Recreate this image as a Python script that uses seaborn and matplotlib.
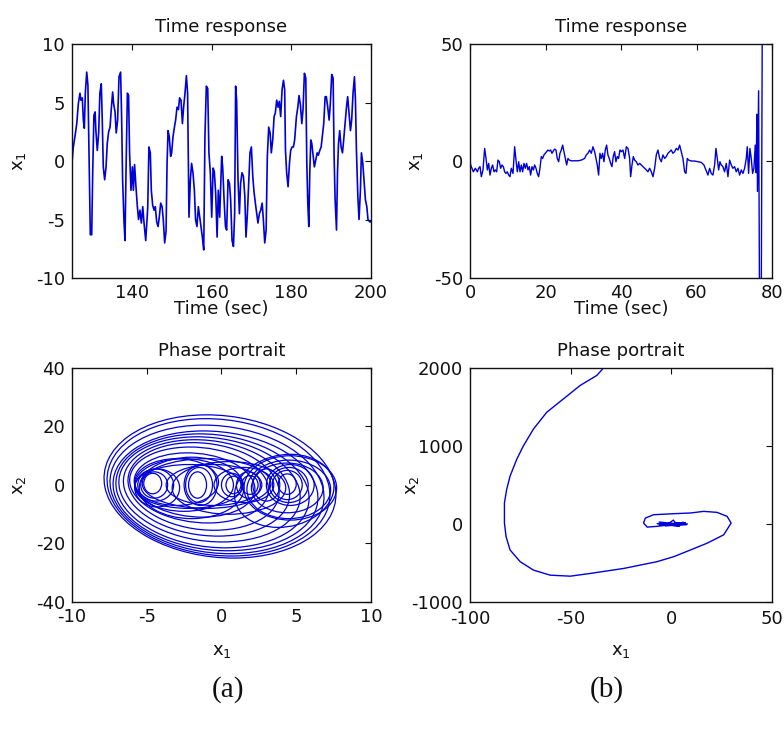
import matplotlib
matplotlib.use("Agg")
import matplotlib.pyplot as plt
from matplotlib.patches import Ellipse
import seaborn as sns

# ---------------- data ----------------
# (a) time response of x1, 125..200 s
t_a = [125.0, 125.3, 125.75, 126.2, 126.6, 127.0, 127.25, 127.6, 127.85, 128.1,
       128.35, 128.7, 129.0, 129.35, 129.6, 129.95, 130.2, 130.5, 130.8, 131.0,
       131.35, 131.7, 132.0, 132.35, 132.6, 132.85, 133.2, 133.55, 133.85, 134.2,
       134.55, 134.85, 135.2, 135.45, 135.8, 136.1, 136.45, 136.8, 137.2, 137.45,
       137.7, 138.05, 138.3, 138.55, 138.9, 139.2, 139.45, 139.8, 140.15, 140.4,
       140.7, 141.05, 141.4, 141.7, 142.05, 142.4, 142.75, 143.05, 143.5, 144.0,
       144.3, 144.65, 144.9, 145.25, 145.6, 145.9, 146.25, 146.6, 146.9, 147.25,
       147.6, 147.9, 148.25, 148.6, 148.85, 149.1, 149.4, 149.75, 150.0, 150.35,
       150.7, 151.0, 151.35, 151.7, 152.0, 152.35, 152.7, 153.0, 153.35, 153.7,
       154.0, 154.35, 154.7, 155.0, 155.35, 155.7, 156.0, 156.35, 156.7, 157.05,
       157.35, 157.7, 158.05, 158.35, 158.7, 159.05, 159.35, 159.7, 160.05, 160.4,
       160.7, 161.05, 161.4, 161.7, 162.05, 162.55, 162.8, 163.15, 163.5, 163.8,
       164.15, 164.5, 164.8, 165.15, 165.5, 165.8, 166.05, 166.3, 166.65, 167.0,
       167.3, 167.65, 168.0, 168.35, 168.65, 169.0, 169.35, 169.65, 170.0, 170.35,
       170.65, 171.0, 171.35, 171.65, 172.0, 172.35, 172.7, 173.0, 173.35, 173.7,
       174.0, 174.35, 174.7, 175.0, 175.35, 175.7, 176.0, 176.35, 176.7, 177.0,
       177.35, 177.7, 178.05, 178.35, 178.55, 178.85, 179.2, 179.55, 179.85, 180.2,
       180.55, 180.85, 181.3, 181.65, 181.95, 182.3, 182.65, 182.95, 183.3, 183.65,
       183.9, 184.15, 184.4, 184.65, 184.9, 185.15, 185.5, 185.8, 186.15, 186.5,
       186.8, 187.15, 187.5, 187.8, 188.15, 188.5, 188.8, 189.15, 189.5, 189.8,
       190.15, 190.5, 190.75, 191.0, 191.35, 191.6, 191.85, 192.15, 192.5, 192.85,
       193.15, 193.5, 193.85, 194.15, 194.5, 194.85, 195.15, 195.5, 195.85, 196.1,
       196.35, 196.7, 197.0, 197.35, 197.6, 197.95, 198.25, 198.6, 198.95, 199.25,
       199.7, 200.0]
x1_a = [-0.2, 1.1, 2.1, 3.2, 4.9, 5.8, 5.2, 5.4, 3.5, 2.8,
        5.8, 7.6, 6.5, -1.3, -6.3, -6.3, -1.0, 3.9, 4.2, 2.6,
        0.9, 2.4, 5.8, 6.6, 3.5, -0.5, -1.6, -0.5, 1.5, 2.5,
        2.9, 4.4, 5.9, 4.9, 4.2, 2.4, 3.5, 7.2, 7.6, 3.8,
        -1.6, -5.2, -6.8, -1.0, 5.8, 5.6, 0.7, -2.5, -0.5, -2.5,
        -0.3, -2.2, -3.9, -5.0, -4.2, -5.3, -3.9, -5.2, -6.8, -4.0,
        1.2, 0.7, -2.5, -3.8, -4.2, -3.9, -5.2, -5.6, -4.8, -3.6,
        -3.9, -5.0, -7.0, -6.0, -0.2, 2.6, 2.1, 0.4, 0.7, 2.1,
        2.9, 3.5, 4.6, 4.4, 5.4, 5.2, 3.2, 4.6, 5.8, 7.3,
        5.8, -4.8, -1.6, -0.2, -1.0, -2.5, -5.0, -5.6, -3.9, -4.8,
        -5.6, -6.5, -7.6, 2.1, 6.4, 6.2, 0.7, -1.0, -4.8, -0.6,
        -0.9, -2.8, -6.5, -2.5, -4.8, 0.4, -0.5, -3.3, -5.6, -5.9,
        -1.6, -1.9, -3.3, -6.8, -7.3, -4.5, 6.4, 5.2, -1.6, -4.5,
        -1.9, -1.0, -1.3, -3.0, -6.5, -4.5, -1.6, 0.7, 1.2, -1.3,
        -2.6, -3.6, -4.5, -5.3, -4.5, -4.2, -3.6, -5.0, -7.0, -5.9,
        0.4, 2.9, 2.4, 0.7, 1.8, 3.8, 4.1, 5.2, 4.6, 5.1,
        3.8, 6.1, 6.9, 6.1, 0.9, -1.0, -2.2, -0.2, 0.9, 1.2,
        1.2, 1.8, 3.8, 4.6, 5.6, 4.8, 3.2, 4.4, 7.5, 7.1,
        -0.2, -3.6, -5.6, -1.0, 1.8, 1.5, 0.4, -0.5, 0.1, 0.7,
        0.5, 0.9, 1.2, 2.1, 3.2, 5.5, 5.5, 4.6, 3.5, 4.9,
        7.4, 7.1, 0.4, -3.3, -5.9, -1.0, 1.5, 2.6, 1.2, 0.7,
        1.8, 3.2, 4.6, 5.5, 4.1, 2.6, 3.5, 5.8, 7.2, 5.2,
        0.9, -3.0, -5.0, -2.5, 0.7, -0.2, -1.6, -3.3, -3.9, -5.0,
        -5.2, -5.2]

# (b) time response of x1, 0..80 s
t_b = [0.0, 0.18, 0.53, 0.88, 1.41, 1.94, 2.29, 2.65, 3.0, 3.44,
       3.88, 4.24, 4.59, 4.94, 5.3, 5.65, 6.0, 6.35, 6.71, 7.06,
       7.41, 7.77, 8.12, 8.47, 8.83, 9.18, 9.53, 9.88, 10.24, 10.59,
       10.94, 11.39, 11.83, 12.18, 12.53, 12.89, 13.24, 13.59, 13.95, 14.3,
       14.65, 15.0, 15.36, 15.71, 16.06, 16.42, 16.77, 17.12, 17.48, 17.83,
       18.18, 18.53, 18.89, 19.24, 19.59, 19.95, 20.3, 20.65, 21.0, 21.36,
       21.71, 22.06, 22.42, 22.77, 23.12, 23.48, 23.83, 24.18, 24.54, 24.89,
       25.24, 25.6, 25.95, 26.3, 26.83, 27.71, 28.6, 29.48, 30.36, 30.8,
       31.24, 31.69, 32.13, 32.57, 33.01, 33.36, 33.72, 34.07, 34.42, 34.77,
       35.13, 35.48, 35.83, 36.19, 36.54, 36.89, 37.25, 37.6, 37.95, 38.3,
       38.66, 39.01, 39.36, 39.72, 40.08, 40.52, 40.97, 41.41, 41.85, 42.29,
       42.55, 42.91, 43.26, 43.61, 44.05, 44.5, 44.94, 45.38, 45.82, 46.26,
       46.7, 47.14, 47.58, 48.03, 48.47, 48.91, 49.35, 49.79, 50.23, 50.67,
       51.12, 51.56, 52.0, 52.44, 52.88, 53.32, 53.76, 54.2, 54.65, 55.09,
       55.53, 55.97, 56.41, 56.85, 57.21, 57.56, 57.91, 58.62, 59.5, 60.38,
       61.27, 61.97, 62.32, 62.68, 63.03, 63.47, 63.91, 64.35, 64.8, 65.15,
       65.5, 65.86, 66.21, 66.56, 67.0, 67.44, 67.89, 68.33, 68.77, 69.21,
       69.65, 70.09, 70.53, 70.97, 71.42, 71.86, 72.3, 72.74, 73.18, 73.45,
       73.8, 74.15, 74.5, 74.86, 75.21, 75.56, 75.8, 76.0, 76.15, 76.45,
       76.75, 77.1, 77.45]
x1_b = [0.0, -1.7, -3.1, -4.6, -3.1, -4.6, -3.1, -2.4, -6.7, -3.8,
        5.4, 1.1, -3.8, -1.0, -6.0, -3.1, -1.7, -4.6, -3.8, -4.6,
        0.4, -0.3, -3.1, -1.7, -2.4, -4.6, -5.3, -4.6, -6.0, -6.7,
        -3.1, -5.3, 6.1, 0.4, -4.6, -0.3, -4.6, -1.7, -4.6, -1.0,
        -3.1, -1.0, -3.8, -2.4, -6.0, -2.4, -3.8, -1.7, -3.1, -5.3,
        -6.7, -3.1, 1.9, 1.1, 2.6, 3.3, 4.0, 4.7, 4.3, 4.7,
        3.3, 4.3, 5.1, 4.7, 1.1, -0.3, 3.3, 4.7, 6.8, 4.0,
        1.1, -1.7, 1.1, 0.4, 0.1, 0.1, 0.1, 0.4, 1.1, 2.6,
        3.3, 4.7, 3.3, 6.1, 4.0, 1.1, -1.7, -6.0, 3.3, 1.1,
        3.3, -0.3, 4.7, 6.8, 2.6, 1.1, -1.0, -2.4, 1.9, 4.0,
        -0.3, 1.9, 1.1, 4.7, 4.0, 4.7, 1.1, 6.1, 5.4, 1.1,
        -6.7, -1.7, 1.9, 0.4, -0.3, -1.7, -1.0, -1.7, -2.4, -3.1,
        -3.8, -4.6, -3.1, -4.6, -6.7, -3.1, 2.6, 4.7, 1.1, -0.3,
        2.6, 1.1, 1.9, 3.3, 4.0, 4.7, 3.3, 4.0, 5.4, 4.7,
        6.8, 4.0, 1.1, -4.6, -5.3, 1.1, 0.4, 0.0, 0.0, -0.3,
        -0.6, -1.7, -3.1, -4.6, -6.0, -3.1, -5.3, -6.0, -1.7, 5.4,
        1.1, -3.8, -0.3, -1.7, -2.4, -4.6, -1.0, -6.7, 0.4, -1.7,
        -3.1, -2.4, -4.6, -3.1, -6.0, -3.8, -5.3, -3.1, 1.1, 6.1,
        -5.3, 5.4, 1.1, -5.3, -3.1, 6.8, -5.0, 20.0, -13.0, 30.0,
        -83.0, -83.0, 70.0]

# (a) phase portrait: trajectory loops (centre x1, centre x2, half-width, half-height, tilt)
loop_cx = [-0.1, -0.2, -0.3, -0.4, -0.6, -0.8, -1.0, -1.2, -1.5, -1.8,
           4.6, 4.5, 4.4, 4.2,
           -2.5, -2.0, -3.0, -0.5, 1.5, 0.5, -1.0, -2.2,
           -4.5, -4.4, -4.6, -4.3,
           -1.5, -1.4, -1.6,
           0.7, 0.8, 1.8, 1.9, 3.0,
           4.4, 4.5, 4.4, 4.6]
loop_cy = [-0.5, -0.8, -1.5, -2.0, -2.0, -1.5, -1.0, -0.5, 0.0, 0.0,
           -1.0, -1.5, -1.0, -2.0,
           0.0, -1.0, 1.0, 0.0, 0.0, -1.0, 0.5, -0.5,
           0.0, 0.0, 0.5, -1.0,
           0.0, 0.0, 0.0,
           0.0, 0.0, 0.0, 0.0, 0.0,
           0.0, 0.0, 0.3, 0.0]
loop_rx = [7.7, 7.4, 7.1, 6.8, 6.4, 6.0, 5.5, 5.0, 4.6, 4.0,
           3.1, 2.8, 2.4, 3.3,
           3.3, 3.5, 2.8, 3.2, 2.0, 3.8, 4.3, 3.6,
           0.9, 1.2, 0.6, 1.5,
           0.9, 1.1, 0.6,
           0.7, 0.5, 0.8, 0.55, 0.9,
           1.0, 1.3, 0.6, 1.6]
loop_ry = [24.5, 23.5, 22.0, 20.5, 19.5, 18.0, 16.5, 15.0, 13.0, 11.0,
           11.0, 10.0, 8.5, 12.5,
           9.0, 10.5, 8.0, 7.0, 6.0, 9.0, 8.5, 7.5,
           4.5, 5.5, 3.5, 6.5,
           6.0, 7.0, 4.5,
           4.0, 3.0, 4.5, 3.2, 5.5,
           5.0, 6.0, 3.5, 7.0]
loop_tilt = [2.3, 2.3, 2.5, 2.5, 2.8, 3.0, 3.0, 3.0, 3.0, 3.0,
             0.0, 0.0, 0.0, -2.0,
             0.0, 0.0, 0.0, 0.0, 0.0, 0.0, 0.0, 0.0,
             0.0, 0.0, 0.0, 0.0,
             0.0, 0.0, 0.0,
             0.0, 0.0, 0.0, 0.0, 0.0,
             0.0, 0.0, 0.0, 0.0]

# (b) phase portrait: escaping trajectory
pb_x1 = [0, 6, -5, 7.5, -6, 4, -7, 8, -3, 1, 3, -6, 7, -7, -12, -13.8,
         -12.9, -8.8, 1.2, 9.5, 16.1, 22.7, 27.7, 29.7, 26.0, 17.7, 9.5, 1.2,
         -7.1, -23.7, -40.3, -50.2, -60.2, -68.5, -75.1, -80.1, -82.1, -82.9,
         -82.9, -81.8, -80.1, -76.8, -73.5, -68.5, -61.9, -53.6, -45.3, -37.0,
         -33.7, -30.3]
pb_x2 = [0, 20, -15, -10, 25, -30, 5, 0, -25, 50, -20, -10, 15, -30, -40, 12,
         76, 119, 132, 141, 162, 149, 98, 12, -139, -247, -333, -419,
         -483, -570, -634, -669, -656, -591, -483, -333, -161, 12,
         270, 442, 614, 829, 1001, 1217, 1432, 1604, 1776, 1905,
         2000, 2099]

# ---------------- style ----------------
sns.set_theme(style="white")
plt.rcParams["font.family"] = ["DejaVu Sans"]
plt.rcParams["mathtext.default"] = "regular"

LINE = "#0000d8"
FS = 13

fig = plt.figure(figsize=(7.84, 7.40), dpi=100)
ax_ta = fig.add_axes([0.0918, 0.6243, 0.3814, 0.3162])
ax_tb = fig.add_axes([0.5995, 0.6243, 0.3852, 0.3162])
ax_pa = fig.add_axes([0.0918, 0.1865, 0.3814, 0.3162])
ax_pb = fig.add_axes([0.5995, 0.1865, 0.3852, 0.3162])


def style(ax, xlim, ylim, xticks, yticks, title, xlabel, ylabel, xl_y, yl_x,
          xpad=4):
    ax.set_xlim(*xlim)
    ax.set_ylim(*ylim)
    ax.set_xticks(xticks)
    ax.set_yticks(yticks)
    ax.set_xticklabels([f"{v:g}" for v in xticks])
    ax.set_yticklabels([f"{v:g}" for v in yticks])
    ax.tick_params(axis="both", direction="in", length=4, width=0.8,
                   top=True, right=True, labelsize=FS, colors="#111111")
    ax.tick_params(axis="x", pad=xpad)
    ax.tick_params(axis="y", pad=5)
    for sp in ax.spines.values():
        sp.set_visible(True)
        sp.set_color("#111111")
        sp.set_linewidth(1.0)
    ax.set_title(title, fontsize=FS, pad=9, color="#111111")
    ax.set_xlabel(xlabel, fontsize=FS, color="#111111")
    ax.set_ylabel(ylabel, fontsize=FS, color="#111111")
    ax.xaxis.set_label_coords(0.5, xl_y)
    ax.yaxis.set_label_coords(yl_x, 0.5)


# time responses
sns.lineplot(x=t_a, y=x1_a, ax=ax_ta, color=LINE, linewidth=1.2,
             estimator=None, sort=False)
sns.lineplot(x=t_b, y=x1_b, ax=ax_tb, color=LINE, linewidth=1.0,
             estimator=None, sort=False)

# phase portrait (a): scroll loops
for cx, cy, rx, ry, tilt in zip(loop_cx, loop_cy, loop_rx, loop_ry, loop_tilt):
    ax_pa.add_patch(Ellipse((cx, cy), 2 * rx, 2 * ry, angle=tilt,
                            fill=False, edgecolor=LINE, linewidth=0.9))

# phase portrait (b)
sns.lineplot(x=pb_x1, y=pb_x2, ax=ax_pb, color=LINE, linewidth=1.0,
             estimator=None, sort=False)

style(ax_ta, (125, 200), (-10, 10), [140, 160, 180, 200], [-10, -5, 0, 5, 10],
      "Time response", "Time (sec)", "$x_1$", -0.095, -0.147)
style(ax_tb, (0, 80), (-50, 50), [0, 20, 40, 60, 80], [-50, 0, 50],
      "Time response", "Time (sec)", "$x_1$", -0.095, -0.149)
style(ax_pa, (-10, 10), (-40, 40), [-10, -5, 0, 5, 10], [-40, -20, 0, 20, 40],
      "Phase portrait", "$x_1$", "$x_2$", -0.17, -0.147)
style(ax_pb, (-100, 50), (-1000, 2000), [-100, -50, 0, 50], [-1000, 0, 1000, 2000],
      "Phase portrait", "$x_1$", "$x_2$", -0.17, -0.162, xpad=6)

fig.text(0.291, 0.0676, "(a)", fontsize=21, family=["Liberation Serif"],
         ha="center", va="center", color="#111111")
fig.text(0.774, 0.0676, "(b)", fontsize=21, family=["Liberation Serif"],
         ha="center", va="center", color="#111111")

fig.savefig("out.png", dpi=100, facecolor="white")
